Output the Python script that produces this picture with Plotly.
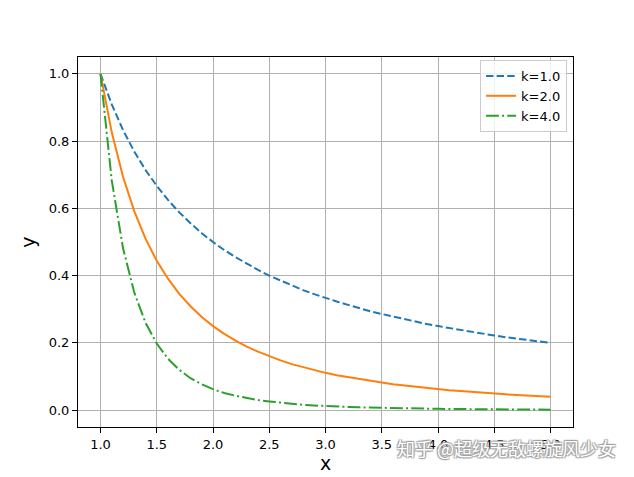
import plotly.graph_objects as go

# x samples and y values
x = [1.0, 1.1, 1.2, 1.3, 1.4, 1.5, 1.6, 1.7, 1.8, 1.9,
     2.0, 2.1, 2.2, 2.3, 2.4, 2.5, 2.6, 2.7, 2.8, 2.9,
     3.0, 3.1, 3.2, 3.3, 3.4, 3.5, 3.6, 3.7, 3.8, 3.9,
     4.0, 4.1, 4.2, 4.3, 4.4, 4.5, 4.6, 4.7, 4.8, 4.9, 5.0]

y_k1 = [1.000, 0.909, 0.833, 0.769, 0.714, 0.667, 0.625, 0.588, 0.556, 0.526,
        0.500, 0.476, 0.455, 0.435, 0.417, 0.400, 0.385, 0.370, 0.357, 0.345,
        0.333, 0.323, 0.313, 0.303, 0.294, 0.286, 0.278, 0.270, 0.263, 0.256,
        0.250, 0.244, 0.238, 0.233, 0.227, 0.222, 0.217, 0.213, 0.208, 0.204, 0.200]

y_k2 = [1.000, 0.826, 0.694, 0.592, 0.510, 0.444, 0.391, 0.346, 0.309, 0.277,
        0.250, 0.227, 0.207, 0.189, 0.174, 0.160, 0.148, 0.137, 0.128, 0.119,
        0.111, 0.104, 0.098, 0.092, 0.087, 0.082, 0.077, 0.073, 0.069, 0.066,
        0.0625, 0.059, 0.057, 0.054, 0.052, 0.049, 0.047, 0.045, 0.043, 0.042, 0.040]

y_k4 = [1.000, 0.683, 0.482, 0.350, 0.260, 0.198, 0.153, 0.120, 0.095, 0.077,
        0.0625, 0.051, 0.043, 0.036, 0.030, 0.026, 0.022, 0.019, 0.016, 0.014,
        0.012, 0.011, 0.0095, 0.0084, 0.0075, 0.0067, 0.0060, 0.0053, 0.0048, 0.0044,
        0.0039, 0.0035, 0.0032, 0.0029, 0.0027, 0.0024, 0.0022, 0.0021, 0.0019, 0.0017, 0.0016]

names = ["k=1.0", "k=2.0", "k=4.0"]
x_ticks = [1.0, 1.5, 2.0, 2.5, 3.0, 3.5, 4.0, 4.5, 5.0]
y_ticks = [0.0, 0.2, 0.4, 0.6, 0.8, 1.0]

fig = go.Figure()
fig.add_trace(go.Scatter(x=x, y=y_k1, mode="lines", name=names[0],
                         line=dict(color="#1f77b4", width=2, dash="7.4px,3.2px")))
fig.add_trace(go.Scatter(x=x, y=y_k2, mode="lines", name=names[1],
                         line=dict(color="#ff7f0e", width=2)))
fig.add_trace(go.Scatter(x=x, y=y_k4, mode="lines", name=names[2],
                         line=dict(color="#2ca02c", width=2, dash="12.8px,3.2px,2px,3.2px")))

axis_style = dict(showline=True, linecolor="black", linewidth=1, mirror=True,
                  ticks="outside", ticklen=5, tickwidth=1, tickcolor="black",
                  showgrid=True, gridcolor="#b0b0b0", gridwidth=1, zeroline=False,
                  automargin=False, tickfont=dict(size=13, color="black"))

fig.update_xaxes(range=[0.8, 5.2], tickvals=x_ticks, tickformat=".1f",
                 title=dict(text="x", font=dict(size=19, color="black"), standoff=4),
                 **axis_style)
fig.update_yaxes(range=[-0.05, 1.05], tickvals=y_ticks, tickformat=".1f",
                 title=dict(text="y", font=dict(size=19, color="black"), standoff=8),
                 **axis_style)

# watermark
fig.add_annotation(text="知乎 @超级无敌螺旋风少女", xref="paper", yref="paper",
                   x=0.865, y=-0.058, xanchor="center", yanchor="middle", showarrow=False,
                   font=dict(family="Noto Sans CJK SC", size=18, color="white",
                             shadow="1px 1px 1px #a0a0a0, -1px -1px 1px #a0a0a0, "
                                    "1px -1px 1px #a0a0a0, -1px 1px 1px #a0a0a0"))

# page body has an 8px margin, so the figure is a little smaller than the window
fig.update_layout(width=626, height=469,
                  margin=dict(l=70, r=61, t=49, b=50),
                  paper_bgcolor="white", plot_bgcolor="white",
                  font=dict(family="DejaVu Sans", color="black"),
                  legend=dict(x=0.988, y=0.992, xanchor="right", yanchor="top",
                              bgcolor="rgba(255,255,255,0.8)", bordercolor="#cccccc",
                              borderwidth=1, font=dict(size=13), tracegroupgap=0))

fig.write_html("out.html")
